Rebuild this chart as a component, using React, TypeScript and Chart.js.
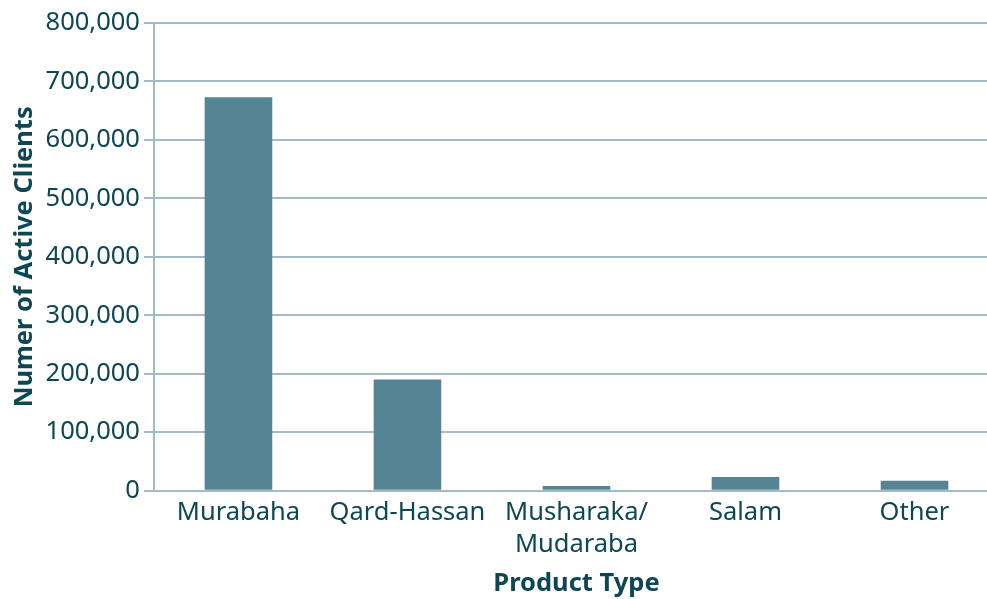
import React, { useEffect, useRef } from "react";
import { Chart, registerables } from "chart.js";

Chart.register(...registerables);

const categories: (string | string[])[] = ["Murabaha", "Qard-Hassan", ["Musharaka/", "Mudaraba"], "Salam", "Other"];
const activeClients = [673000, 190000, 8000, 23500, 17000];
const yTickValues = [0, 100000, 200000, 300000, 400000, 500000, 600000, 700000, 800000];

const TEXT = "#0d4753";
const GRID = "#a2bbc7";
const BAR = "#558494";
const FONT = "'Noto Sans', Lato, sans-serif";
const SIZE = 25.5;

export default function App() {
  const ref = useRef<HTMLCanvasElement | null>(null);
  useEffect(() => {
    if (!ref.current) return;
    const chart = new Chart(ref.current, {
      type: "bar",
      data: {
        labels: categories,
        datasets: [
          {
            data: activeClients,
            backgroundColor: BAR,
            borderWidth: 0,
            categoryPercentage: 1,
            barPercentage: 0.4,
          },
        ],
      },
      options: {
        animation: false,
        responsive: false,
        maintainAspectRatio: false,
        layout: { padding: { top: 23, right: 1, bottom: 0, left: 9 } },
        plugins: { legend: { display: false }, tooltip: { enabled: false } },
        scales: {
          x: {
            grid: { display: false, drawTicks: false },
            border: { color: GRID, width: 2 },
            ticks: { color: TEXT, font: { family: FONT, size: SIZE, lineHeight: 1.25 }, maxRotation: 0, autoSkip: false, padding: 6 },
            title: { display: true, text: "Product Type", color: TEXT, font: { family: FONT, size: SIZE, weight: "bold" }, padding: { top: 2, bottom: 0 } },
          },
          y: {
            min: 0,
            max: 800000,
            afterBuildTicks: (axis: any) => {
              axis.ticks = yTickValues.map((v) => ({ value: v }));
            },
            grid: { color: GRID, lineWidth: 2, tickLength: 10 },
            border: { color: GRID, width: 2 },
            ticks: {
              color: TEXT,
              font: { family: FONT, size: SIZE },
              padding: 4,
              callback: (v: any) => Number(v).toLocaleString("en-US"),
            },
            title: { display: true, text: "Numer of Active Clients", color: TEXT, font: { family: FONT, size: SIZE, weight: "bold" }, padding: { top: 0, bottom: 2 } },
          },
        },
      },
    });
    return () => chart.destroy();
  }, []);
  return (
    <div style={{ position: "fixed", top: 0, left: 0, width: 987, height: 599, overflow: "hidden" }}>
      <canvas ref={ref} width={1000} height={599} style={{ display: "block", width: 1000, height: 599 }} />
    </div>
  );
}
